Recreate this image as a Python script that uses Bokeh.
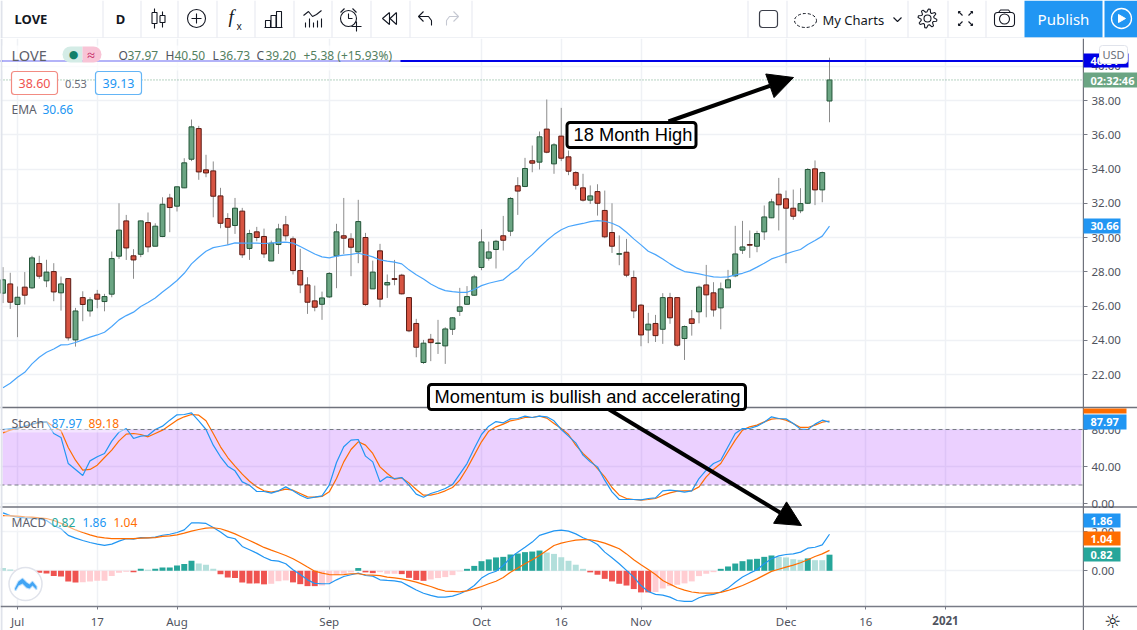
import math
from bokeh.embed import file_html
from bokeh.resources import INLINE
from bokeh.plotting import figure
from bokeh.layouts import column
from bokeh.core.properties import value
from bokeh.models import (Arrow, BoxAnnotation, ColumnDataSource, FixedTicker, Grid, Label, LinearAxis,
                          NormalHead, NumeralTickFormatter, PolyAnnotation, Range1d, Span)

# ---------------- data ----------------
first_bar = -2
opens = [26.75,27.29,26.09,27.10,27.06,28.48,27.47,28.01,26.77,27.60,24.02,26.49,25.71,26.69,26.26,26.69,28.91,30.97,28.93,29.02,
         30.87,29.49,30.06,32.31,31.83,32.90,34.57,36.36,33.95,33.89,32.43,31.11,30.70,31.54,29.36,30.33,30.06,28.63,29.59,30.74,
         29.92,28.07,27.23,26.30,26.10,26.53,28.93,30.10,29.92,29.16,30.00,27.00,29.22,27.23,27.60,27.80,26.49,24.98,22.70,24.06,
         23.81,23.67,24.64,25.69,26.10,26.63,28.25,28.79,29.30,30.10,30.37,33.02,32.98,34.48,34.40,36.33,34.30,35.92,34.71,33.79,
         32.90,32.18,32.68,31.58,30.29,29.02,29.14,27.66,26.05,24.60,24.98,24.64,26.49,26.49,24.10,25.25,25.66,27.23,26.77,25.89,
         27.06,27.76,29.26,29.59,29.49,30.33,31.15,32.53,32.26,31.71,31.56,32.00,34.01,32.78,37.97]
highs = [28.27,27.94,27.14,27.98,28.93,28.93,28.70,28.50,27.72,27.62,25.89,26.86,26.51,26.94,26.71,29.18,32.00,31.32,29.32,30.99,
         31.46,30.83,32.35,32.55,32.98,34.63,36.89,36.52,34.83,34.44,32.90,31.42,32.31,31.73,30.45,30.62,30.52,29.82,30.80,31.26,
         30.06,29.34,27.68,27.19,26.84,27.98,30.80,32.31,30.25,32.20,30.27,28.65,29.63,27.84,28.69,27.88,26.51,25.25,24.02,24.37,
         25.19,24.76,25.34,27.06,27.16,27.82,30.48,29.76,29.86,31.26,32.35,33.52,34.65,35.37,36.19,38.06,35.51,37.57,35.08,33.87,
         33.72,33.04,33.11,32.74,32.00,30.12,29.92,28.07,26.12,25.60,25.48,26.75,26.77,26.51,24.86,25.77,27.19,28.40,27.39,27.37,
         28.11,30.68,30.97,30.41,30.39,31.87,32.26,33.48,32.74,32.80,32.88,34.05,34.50,33.85,40.50]
lows = [26.17,25.83,24.18,26.09,27.00,27.59,27.10,26.28,25.73,23.98,23.63,25.11,25.38,25.87,25.69,26.51,28.75,28.69,27.59,28.85,
        29.14,29.49,30.02,30.31,31.52,32.88,34.46,33.37,33.52,31.18,30.54,29.57,30.21,28.81,28.69,29.78,28.81,28.62,29.04,29.82,
        27.84,26.75,25.54,25.69,25.19,26.47,27.04,29.04,27.74,28.50,26.01,27.00,25.93,26.47,27.21,26.67,24.47,23.01,22.62,22.78,
        23.20,22.62,24.31,25.42,26.09,26.59,28.09,28.65,28.19,29.24,30.08,31.32,32.94,33.81,33.97,34.92,33.72,34.46,33.64,32.80,
        32.10,31.96,31.28,29.96,29.10,28.38,27.68,25.29,23.65,23.83,23.90,23.79,24.96,23.63,22.85,24.27,24.99,25.34,25.38,24.64,
        27.06,27.68,29.04,28.81,29.14,29.86,31.13,30.41,28.50,31.03,31.42,31.96,31.89,32.06,36.73]
closes = [27.53,26.22,26.51,26.63,28.81,27.74,27.98,26.82,27.29,24.14,25.71,26.09,26.36,26.40,26.55,28.77,30.43,29.39,28.69,30.97,
          29.45,30.66,31.94,31.75,32.96,34.36,36.46,33.83,33.77,32.41,30.83,30.60,31.71,28.99,30.23,30.00,29.04,29.67,30.50,30.10,
          28.07,27.23,26.22,25.93,26.47,27.90,30.33,29.96,29.43,30.93,26.09,27.98,26.40,27.37,27.55,26.71,24.55,23.59,23.83,23.86,
          23.84,24.66,25.31,25.95,26.55,27.70,29.74,29.16,29.78,29.84,32.28,32.71,34.03,34.34,35.88,34.98,35.41,34.63,33.87,33.05,
          32.18,32.43,32.00,30.04,29.49,29.06,27.80,25.71,24.31,24.94,24.27,26.49,25.31,23.71,24.80,24.98,27.10,26.65,25.77,27.00,
          27.53,29.04,29.45,29.55,30.23,31.20,32.08,31.91,31.71,31.24,31.98,33.97,32.78,33.79,39.20]
ema = [21.22,21.49,21.84,22.13,22.62,23.01,23.30,23.49,23.73,23.75,23.87,24.02,24.18,24.31,24.47,24.80,25.19,25.44,25.64,25.97,
       26.20,26.47,26.82,27.14,27.49,27.91,28.46,28.85,29.20,29.41,29.49,29.57,29.69,29.67,29.67,29.67,29.65,29.67,29.71,29.73,
       29.67,29.47,29.26,29.04,28.87,28.81,28.91,28.97,29.02,29.08,28.99,28.87,28.69,28.62,28.56,28.46,28.11,27.82,27.58,27.29,
       27.06,26.90,26.84,26.80,26.80,26.96,27.19,27.33,27.43,27.53,27.88,28.17,28.65,29.00,29.43,29.82,30.17,30.45,30.64,30.74,
       30.82,30.93,30.99,30.95,30.83,30.64,30.31,29.92,29.57,29.20,29.00,28.75,28.46,28.21,28.01,27.95,27.88,27.78,27.70,27.68,
       27.70,27.82,27.91,28.05,28.27,28.50,28.75,28.89,29.04,29.18,29.30,29.59,29.82,30.08,30.66]
stoch_k = [80.0,81.1,81.4,83.6,85.8,87.9,88.3,75.7,71.4,43.2,36.8,30.3,46.1,50.5,54.1,67.4,77.1,81.1,70.3,72.8,
           73.5,80.0,83.6,90.1,95.9,96.2,98.0,89.4,80.0,63.1,50.5,40.4,35.3,23.4,19.8,13.0,13.0,11.2,13.7,18.0,
           13.7,9.0,5.4,6.8,8.3,19.8,44.3,61.3,68.5,69.2,51.2,45.0,23.4,28.8,27.0,28.1,19.8,10.1,6.8,10.8,
           13.3,16.2,20.5,31.7,43.2,59.5,74.6,83.6,88.6,87.2,91.5,91.9,94.4,93.0,94.4,93.7,89.4,80.0,72.8,65.6,
           52.3,45.0,39.6,25.2,12.6,4.3,4.3,4.3,4.0,5.4,6.1,13.7,14.4,13.7,12.3,13.7,27.0,36.0,43.2,46.8,
           61.3,75.7,81.1,81.1,83.6,87.9,93.7,91.9,91.5,86.5,80.4,80.0,85.8,90.1,87.97]
stoch_d = [76.4,79.3,81.4,82.9,85.8,87.2,88.3,82.9,78.6,60.5,46.8,36.0,36.8,41.4,49.7,57.7,67.7,75.0,75.7,74.6,
           72.1,75.7,79.3,84.7,90.1,93.7,96.2,95.5,89.4,75.7,61.3,49.7,40.4,31.7,24.1,18.0,13.7,12.3,13.7,15.5,
           14.4,10.8,7.2,6.8,7.6,12.6,27.0,45.0,58.4,66.7,63.1,54.1,39.6,32.4,26.3,27.7,22.3,15.1,9.0,9.0,
           10.8,13.7,17.3,25.2,37.8,52.3,66.7,78.2,82.9,85.8,89.4,90.8,93.0,93.0,94.4,92.3,86.5,81.1,74.6,63.1,
           54.1,46.8,37.8,28.8,17.3,9.0,5.4,4.3,3.6,4.3,5.4,9.0,11.5,13.3,13.7,13.7,18.0,28.8,36.8,43.2,
           55.9,68.5,79.3,82.9,84.7,88.3,91.2,91.9,90.1,86.5,82.2,82.2,84.7,87.9,89.18]
macd = [2.95,2.81,2.73,2.69,2.68,2.64,2.56,2.31,2.14,1.80,1.66,1.54,1.44,1.36,1.29,1.36,1.51,1.63,1.61,1.69,
        1.68,1.71,1.81,1.86,1.95,2.08,2.44,2.44,2.41,2.20,1.97,1.71,1.63,1.24,1.07,0.90,0.69,0.53,0.49,0.36,
        0.05,-0.19,-0.46,-0.64,-0.66,-0.66,-0.46,-0.29,-0.20,-0.12,-0.24,-0.27,-0.46,-0.49,-0.51,-0.58,-0.78,-0.98,-1.14,-1.25,
        -1.34,-1.34,-1.29,-1.17,-1.00,-0.75,-0.37,-0.15,-0.02,0.27,0.66,0.95,1.20,1.46,1.80,1.92,2.03,2.07,2.02,1.88,
        1.68,1.54,1.34,0.95,0.66,0.36,0.02,-0.32,-0.75,-1.05,-1.20,-1.24,-1.34,-1.51,-1.56,-1.56,-1.37,-1.25,-1.20,-1.08,
        -0.88,-0.58,-0.32,-0.12,0.05,0.36,0.61,0.76,0.83,0.86,0.95,1.15,1.20,1.32,1.86]
signal = [2.81,2.80,2.78,2.75,2.73,2.69,2.66,2.56,2.42,2.25,2.08,1.95,1.83,1.73,1.68,1.64,1.64,1.64,1.64,1.66,
          1.68,1.69,1.75,1.78,1.83,1.92,2.02,2.10,2.17,2.19,2.14,2.02,1.88,1.71,1.54,1.37,1.19,1.05,0.92,0.78,
          0.61,0.41,0.19,-0.02,-0.12,-0.19,-0.20,-0.19,-0.15,-0.15,-0.20,-0.22,-0.25,-0.32,-0.36,-0.41,-0.49,-0.58,-0.69,-0.80,
          -0.93,-1.03,-1.05,-1.07,-1.02,-0.92,-0.80,-0.66,-0.53,-0.34,-0.07,0.14,0.36,0.56,0.78,1.03,1.29,1.41,1.49,1.56,
          1.59,1.58,1.51,1.41,1.27,1.12,0.86,0.56,0.31,0.07,-0.19,-0.49,-0.68,-0.86,-0.98,-1.08,-1.12,-1.14,-1.14,-1.10,
          -1.00,-0.88,-0.75,-0.58,-0.41,-0.22,-0.03,0.08,0.19,0.29,0.41,0.56,0.73,0.86,1.04]
hist = [0.14,0.07,-0.08,-0.02,-0.03,-0.10,-0.14,-0.27,-0.29,-0.54,-0.59,-0.58,-0.54,-0.51,-0.51,-0.27,-0.10,-0.05,-0.07,0.10,
        0.05,0.10,0.17,0.17,0.27,0.34,0.51,0.37,0.31,0.10,-0.17,-0.34,-0.37,-0.59,-0.64,-0.64,-0.69,-0.66,-0.53,-0.49,
        -0.59,-0.68,-0.78,-0.78,-0.75,-0.61,-0.22,-0.15,-0.08,0.14,-0.08,-0.12,-0.07,-0.15,-0.15,-0.17,-0.36,-0.47,-0.51,-0.44,
        -0.37,-0.32,-0.22,-0.03,0.10,0.25,0.49,0.58,0.68,0.71,0.83,0.88,0.95,0.98,1.03,0.93,0.86,0.69,0.51,0.31,
        0.10,-0.08,-0.20,-0.41,-0.54,-0.66,-0.75,-0.93,-1.10,-1.10,-1.08,-0.90,-0.78,-0.71,-0.64,-0.54,-0.27,-0.15,-0.07,0.10,
        0.22,0.37,0.49,0.58,0.61,0.71,0.78,0.71,0.68,0.59,0.56,0.63,0.54,0.54,0.82]
hist_kind = ("LL" "R" "P" "RRRRRRR" "PPPPPPP" "R" "D" "L" "DDDDDD" "LLL" "RRRRRRR" "PPP" "RRRR" "PPPPP" "D" "RR" "PPP" "RRRR"
             "PPPPP" "DDDDDDDDDDD" "LLLLLL" "RRRRRRRRR" "PPPPPPPPP" "DDDDDDDD" "LLLL" "D" "LL" "D")
price_ticks = [22, 24, 26, 28, 30, 32, 34, 36, 38, 40]
stoch_ticks = [0, 40, 80]
macd_ticks = [0, 2]
time_ticks = [0, 11, 22, 43, 64, 75, 86, 106, 117, 128]
time_labels = ["Jul", "17", "Aug", "Sep", "Oct", "16", "Nov", "Dec", "16", "2021"]
resistance = 40.31
last_close = 39.20

n = len(opens)
for arr in (highs, lows, closes, ema, stoch_k, stoch_d, macd, signal, hist, hist_kind):
    assert len(arr) == n, (len(arr), n)
bars = [first_bar + k for k in range(n)]

# ---------------- layout constants ----------------
W, H, TOP = 1137, 630, 38
AXIS_X, PANE_B = 1083, 606
FONT = "Noto Sans"
GRID = "#eff1f5"
AXIS = "#787b86"
TXT = "#50535e"
px_per_bar = 7.25
x0_px = 17

def x_of_px(px):
    return (px - x0_px) / px_per_bar

def rng(a_val, a_px, b_val, b_px):
    per_px = (a_val - b_val) / (b_px - a_px)
    return Range1d(a_val - (H - a_px) * per_px, a_val + (a_px - TOP) * per_px)

def price_of_px(py):
    return 38 - (py - 100) / 17.125

x_range = Range1d(x_of_px(0), x_of_px(W))
p = figure(width=W, height=H - TOP, x_range=x_range, y_range=rng(38, 100, 22, 374), output_backend="svg",
           toolbar_location=None, x_axis_location=None, y_axis_location=None, frame_align=False, min_border=0,
           background_fill_color="white", border_fill_color="white", outline_line_color=None)
p.extra_y_ranges = {"stoch": rng(40, 466, 0, 503), "macd": rng(0, 570.3, 2, 531)}
p.xgrid.visible = False
p.ygrid.visible = False

def box(fig, l, r, t, b, fill=None, line=None, lw=1, alpha=1.0, radius=0, dy=0, level="annotation"):
    fig.add_layout(BoxAnnotation(left=l, right=r, top=t - dy, bottom=b - dy, left_units="canvas", right_units="canvas",
                                 top_units="canvas", bottom_units="canvas", fill_color=fill, fill_alpha=alpha if fill else 0,
                                 line_color=line, line_width=lw, line_alpha=1 if line else 0, border_radius=radius, level=level))

def label(fig, x, y, text, color=TXT, size=13, align="left", style="normal", font=FONT, dy=0, level="annotation"):
    fig.add_layout(Label(x=x, y=y - dy, x_units="canvas", y_units="canvas", text=text, text_color=color,
                         text_font_size=f"{size}px", text_align=align, text_baseline="middle",
                         text_font_style=style, text_font=font, level=level))

# grids
p.add_layout(Grid(dimension=0, ticker=FixedTicker(ticks=time_ticks), grid_line_color=GRID, grid_line_width=1.5))
p.add_layout(Grid(dimension=1, ticker=FixedTicker(ticks=price_ticks), grid_line_color=GRID, grid_line_width=1.5))
p.add_layout(Grid(dimension=1, y_range_name="stoch", ticker=FixedTicker(ticks=stoch_ticks), grid_line_color=GRID, grid_line_width=1.5))
p.add_layout(Grid(dimension=1, y_range_name="macd", ticker=FixedTicker(ticks=macd_ticks), grid_line_color=GRID, grid_line_width=1.5))

# stochastic band
p.add_layout(BoxAnnotation(bottom=20, top=80, left=x_of_px(2), right=x_of_px(1081), y_range_name="stoch",
                           fill_color="#9915ff", fill_alpha=0.2, line_alpha=0, level="underlay"))
for lv in (20, 80):
    p.add_layout(Span(location=lv, dimension="width", y_range_name="stoch", line_color=AXIS, line_width=1, line_dash="4 3"))

# candles
is_up = [c >= o for o, c in zip(opens, closes)]
src = ColumnDataSource(dict(x=bars, high=highs, low=lows,
                            top=[max(o, c) for o, c in zip(opens, closes)],
                            bot=[min(o, c) for o, c in zip(opens, closes)],
                            fill=["#6ba583" if u else "#d75442" for u in is_up],
                            edge=["#225437" if u else "#5b1a13" for u in is_up]))
p.segment("x", "high", "x", "low", source=src, line_color="#8c8c8c", line_width=1)
p.vbar("x", 0.68, "bot", "top", source=src, fill_color="fill", line_color="edge", line_width=1)
p.line(bars, ema, line_color="#4aa5fb", line_width=1.2)

# level lines
p.add_layout(Span(location=resistance, dimension="width", line_color="#0000e6", line_width=2))
p.add_layout(Span(location=last_close, dimension="width", line_color="#6ba583", line_width=1, line_dash="1 2"))

# stochastic
p.line(bars, stoch_d, y_range_name="stoch", line_color="#ff6d00", line_width=1.2)
p.line(bars, stoch_k, y_range_name="stoch", line_color="#2196f3", line_width=1.2)

# macd
hist_colors = {"D": "#26a69a", "L": "#b2dfdb", "R": "#ef5350", "P": "#ffcdd2"}
p.vbar(bars, 0.82, [0] * n, hist, y_range_name="macd", fill_color=[hist_colors[k] for k in hist_kind], line_color=None)
p.line(bars, macd, y_range_name="macd", line_color="#2196f3", line_width=1.2)
p.line(bars, signal, y_range_name="macd", line_color="#ff6d00", line_width=1.2)

D = TOP
# scale panels: white over everything that runs past the panes
box(p, AXIS_X, W, 38 - D, 630 - D, fill="white")
box(p, 0, W, PANE_B - D, 630 - D, fill="white")

# pane separators (they run across the price scale too)
for py in (407, 506.5):
    p.add_layout(Span(location=price_of_px(py), dimension="width", line_color="#6f727c", line_width=1.3))

# axes
def right_axis(ticks, range_name=None):
    kw = {"y_range_name": range_name} if range_name else {}
    ax = LinearAxis(ticker=FixedTicker(ticks=ticks), formatter=NumeralTickFormatter(format="0.00"), fixed_location=x_of_px(AXIS_X),
                    axis_line_color=None, major_tick_line_color=AXIS, major_tick_out=4, major_tick_in=0, minor_tick_line_color=None,
                    major_label_text_color=TXT, major_label_text_font=FONT, major_label_text_font_size="11.5px",
                    major_label_standoff=4, level="overlay", **kw)
    p.add_layout(ax, "right")

right_axis(price_ticks)
right_axis(stoch_ticks, "stoch")
right_axis(macd_ticks, "macd")

overrides = {t: (" " if l == "2021" else l) for t, l in zip(time_ticks, time_labels)}
xax = LinearAxis(ticker=FixedTicker(ticks=time_ticks), major_label_overrides=overrides, fixed_location=price_of_px(PANE_B),
                 axis_line_color=AXIS, axis_line_width=1.3, major_tick_line_color=AXIS, major_tick_out=3, major_tick_in=0,
                 minor_tick_line_color=None, major_label_text_color=TXT, major_label_text_font=FONT,
                 major_label_text_font_size="11.5px", major_label_standoff=4, level="overlay")
p.add_layout(xax, "below")

box(p, 0, 2, 38 - D, 630 - D, fill="#e0e3eb")
box(p, AXIS_X - 0.7, AXIS_X + 0.5, 38 - D, 630 - D, fill="#6f727c")
label(p, 945, 620, "2021", style="bold", align="center", size=11.5, dy=D)

# legend backgrounds
box(p, 2, 400, 45, 70, fill="white", alpha=0.7, dy=D)
box(p, 4, 124, 415, 432, fill="white", alpha=0.45, dy=D)
box(p, 4, 142, 514, 531, fill="white", alpha=0.45, dy=D)

# legend texts
label(p, 11, 54, "LOVE", size=14.5, color="#5d606b", dy=D)
box(p, 62, 82, 46, 62, fill="#d4ece6", radius=(8, 0, 0, 8), dy=D)
box(p, 82, 101, 46, 62, fill="#f8c4d6", radius=(0, 8, 8, 0), dy=D)
label(p, 73, 53.5, "●", color="#12806a", size=11, align="center", font="DejaVu Sans", dy=D)
label(p, 90.5, 54, "≈", color="#c2185b", size=14, align="center", dy=D)
ohlc = [(118, "O", "37.97"), (165, "H", "40.50"), (212, "L", "36.73"), (256, "C", "39.20")]
for xx, k, v in ohlc:
    label(p, xx, 55, k, color="#50535e", size=12, dy=D)
    label(p, xx + (9 if k != "L" else 7), 55, v, color="#53805f", size=12, dy=D)
label(p, 303, 55, "+5.38 (+15.93%)", color="#53805f", size=12, dy=D)

box(p, 11, 57, 71, 94, fill="white", line="#f28b82", lw=1.2, radius=3, dy=D)
label(p, 34, 83, "38.60", color="#ef5350", size=12.5, align="center", dy=D)
label(p, 75.5, 83, "0.53", color="#6a6d78", size=11, align="center", dy=D)
box(p, 95, 141, 71, 94, fill="white", line="#64b5f6", lw=1.2, radius=3, dy=D)
label(p, 118, 83, "39.13", color="#2196f3", size=12.5, align="center", dy=D)
label(p, 11, 109, "EMA", color="#5d606b", size=12, dy=D)
label(p, 42, 109, "30.66", color="#2196f3", size=12, dy=D)
label(p, 11, 423, "Stoch", color="#5d606b", size=12.5, dy=D)
label(p, 51, 423, "87.97", color="#2196f3", size=12, dy=D)
label(p, 88, 423, "89.18", color="#ff6d00", size=12, dy=D)
label(p, 11, 522, "MACD", color="#5d606b", size=12, dy=D)
label(p, 51, 522, "0.82", color="#26a69a", size=12, dy=D)
label(p, 82, 522, "1.86", color="#2196f3", size=12, dy=D)
label(p, 113, 522, "1.04", color="#ff6d00", size=12, dy=D)

# right-axis tags
def tag(t, b, r, fill, text=None):
    box(p, AXIS_X, r, t, b, fill=fill, dy=D, level="overlay")
    if text:
        label(p, 1090, (t + b) / 2, text, color="white", size=11, style="bold", dy=D, level="overlay")

tag(53, 67, 1128, "#0000e6", "40.31")
box(p, 1099, 1127, 45, 63, fill="white", line="#e0e3eb", radius=3, dy=D, level="overlay")
label(p, 1113, 54, "USD", color="#6a6d78", size=11, align="center", dy=D, level="overlay")
tag(72, 87, 1137, "#6ba583", "02:32:46")
tag(218, 233, 1120, "#2196f3", "30.66")
tag(408, 413, 1126, "#ff6d00")
tag(414, 429, 1126, "#2196f3", "87.97")
tag(513, 527, 1120, "#2196f3", "1.86")
tag(531, 545, 1120, "#ff6d00", "1.04")
tag(547, 561, 1120, "#26a69a", "0.82")

# logo badge
p.scatter(x_of_px(25), price_of_px(583.5), size=33, fill_color="white", line_color="#e0e3eb", line_width=1.5)
p.add_layout(PolyAnnotation(xs=[14.5, 18, 22, 26, 29, 32, 36, 36, 32, 29, 26, 22, 18, 15],
                            ys=[y - D for y in [588, 581, 578, 582, 584, 581, 586, 589, 585, 588, 587, 583, 585, 590]],
                            xs_units="canvas", ys_units="canvas", fill_color="#42a5f5", fill_alpha=1,
                            line_color="#42a5f5", line_width=2))
label(p, 1112, 620, "☼", color="#131722", size=19, align="center", font="DejaVu Sans", dy=D)

# call-outs
def arrow(x1, y1, x2, y2):
    p.add_layout(Arrow(x_start=x_of_px(x1), y_start=price_of_px(y1), x_end=x_of_px(x2), y_end=price_of_px(y2),
                       line_color="black", line_width=4,
                       end=NormalHead(size=25, fill_color="black", line_color="black", line_width=1)))

arrow(668, 121, 793, 77)
arrow(607, 408, 801, 525)
box(p, 566.5, 695.5, 122, 147, fill="white", line="black", lw=3, radius=3, dy=D)
label(p, 573, 134, "18 Month High", color="black", size=18.3, font="Liberation Sans", dy=D)
box(p, 428, 745, 384, 409, fill="white", line="black", lw=3, radius=3, dy=D)
label(p, 434, 396, "Momentum is bullish and accelerating", color="black", size=18.3, font="Liberation Sans", dy=D)

# ---------------- header bar ----------------
h = figure(width=W, height=TOP, x_range=Range1d(0, W), y_range=Range1d(TOP, 0), output_backend="svg", toolbar_location=None,
           x_axis_location=None, y_axis_location=None, min_border=0, outline_line_color=None, frame_align=False,
           background_fill_color="white", border_fill_color="white")
h.xgrid.visible = False
h.ygrid.visible = False
INK = "#131722"

def hline(xs, ys, color=INK, w=1.1):
    h.line(xs, ys, line_color=color, line_width=w)

def htext(x, y, t, size=13, color=INK, align="left", style="normal", font=FONT):
    h.text([x], [y], text=[t], text_font_size=f"{size}px", text_color=color, text_align=align, text_baseline="middle",
           text_font_style=style, text_font=value(font))

box(h, 0, 2, 0, 38, fill="#e0e3eb")
box(h, 0, W, 37, 38, fill="#e0e3eb")
for sx in (102, 140, 177, 216, 254, 293, 331, 370, 409, 471, 747, 786, 907, 947, 985):
    box(h, sx, sx + 1, 0, 37, fill="#e6e8ef")
htext(14, 18, "LOVE", size=13, style="bold")
htext(120, 18, "D", size=13, align="center", style="bold")
# candle icon
for cx, t, b, w0, w1 in ((154, 12, 23, 8, 28), (162, 15, 22, 11, 27)):
    hline([cx, cx], [w0, t]); hline([cx, cx], [b, w1])
    hline([cx - 2.5, cx + 2.5, cx + 2.5, cx - 2.5, cx - 2.5], [t, t, b, b, t])
# indicator plus
h.scatter([196], [18], size=18, fill_color=None, line_color=INK, line_width=1.1)
hline([191, 201], [18, 18]); hline([196, 196], [13, 23])
# fx
htext(228, 16, "f", size=19, style="italic", font="Liberation Serif")
htext(236, 25, "x", size=10)
# bars
for l, t in ((265, 20), (270.5, 15), (276, 11)):
    hline([l, l, l + 5, l + 5], [27, t, t, 27])
hline([264, 282], [27, 27])
# templates
hline([303, 308, 312, 316, 321], [15, 11, 16, 14, 10])
for vx, vt in ((305, 22), (309, 18), (313, 22), (317, 20), (321, 18)):
    hline([vx, vx], [vt, 27])
# alarm
h.scatter([348], [18], size=16, fill_color=None, line_color=INK, line_width=1.1)
hline([348, 348, 352], [13, 18, 18])
hline([340, 344], [12, 8]); hline([352, 356], [8, 12])
hline([351, 361], [26, 26]); hline([356, 356], [21, 31])
# rewind
hline([389, 382, 389, 389], [12, 18, 24, 12]); hline([396, 389.5, 396, 396], [12, 18, 24, 12])
# undo / redo
hline([431, 431, 428, 418], [25, 20, 16, 16]); hline([423, 418, 423], [11, 16, 21])
hline([446, 446, 449, 458], [25, 20, 16, 16], color="#c5c8d2"); hline([453, 458, 453], [11, 16, 21], color="#c5c8d2")
# right-hand tools
box(h, 759, 777, 10, 27, line="#3c3f4a", lw=1.2, radius=3)
h.ellipse([805], [20], width=22, height=14, fill_color=None, line_color=INK, line_width=1, line_dash="3 2")
htext(822, 19, "My Charts", size=13)
hline([893, 897, 901], [17, 21, 17])
teeth = 8
gx = [927 + (9.5 if (k % 4) in (0, 1) else 6.5) * math.cos(2 * math.pi * (k + 0.5) / (4 * teeth)) for k in range(4 * teeth + 1)]
gy = [18 + (9.5 if (k % 4) in (0, 1) else 6.5) * math.sin(2 * math.pi * (k + 0.5) / (4 * teeth)) for k in range(4 * teeth + 1)]
hline(gx, gy)
h.scatter([927], [18], size=7, fill_color=None, line_color=INK, line_width=1.1)
for sx, sy in ((-1, -1), (1, -1), (-1, 1), (1, 1)):
    cx, cy = 965 + sx * 3, 18 + sy * 3
    hline([cx, cx + sx * 4], [cy, cy + sy * 4])
    hline([cx + sx * 4, cx + sx * 4], [cy + sy * 2, cy + sy * 4]); hline([cx + sx * 2, cx + sx * 4], [cy + sy * 4, cy + sy * 4])
box(h, 994, 1014, 12, 26, line=INK, lw=1.1, radius=3)
hline([998, 1000, 1008, 1010], [12, 9.5, 9.5, 12])
h.scatter([1004], [18.5], size=10, fill_color=None, line_color=INK, line_width=1.1)
h.quad(left=[1024, 1104], right=[1102, 1137], top=[0, 0], bottom=[37, 37], fill_color="#2196f3", line_color=None)
htext(1063, 18, "Publish", size=15, color="white", align="center")
h.scatter([1121], [18], size=20, fill_color=None, line_color="white", line_width=1.3)
h.patch([1118, 1118, 1125], [14, 22, 18], fill_color="white", line_color="white")

layout = column(h, p, spacing=0)
open("out.html", "w").write(file_html(layout, INLINE))
